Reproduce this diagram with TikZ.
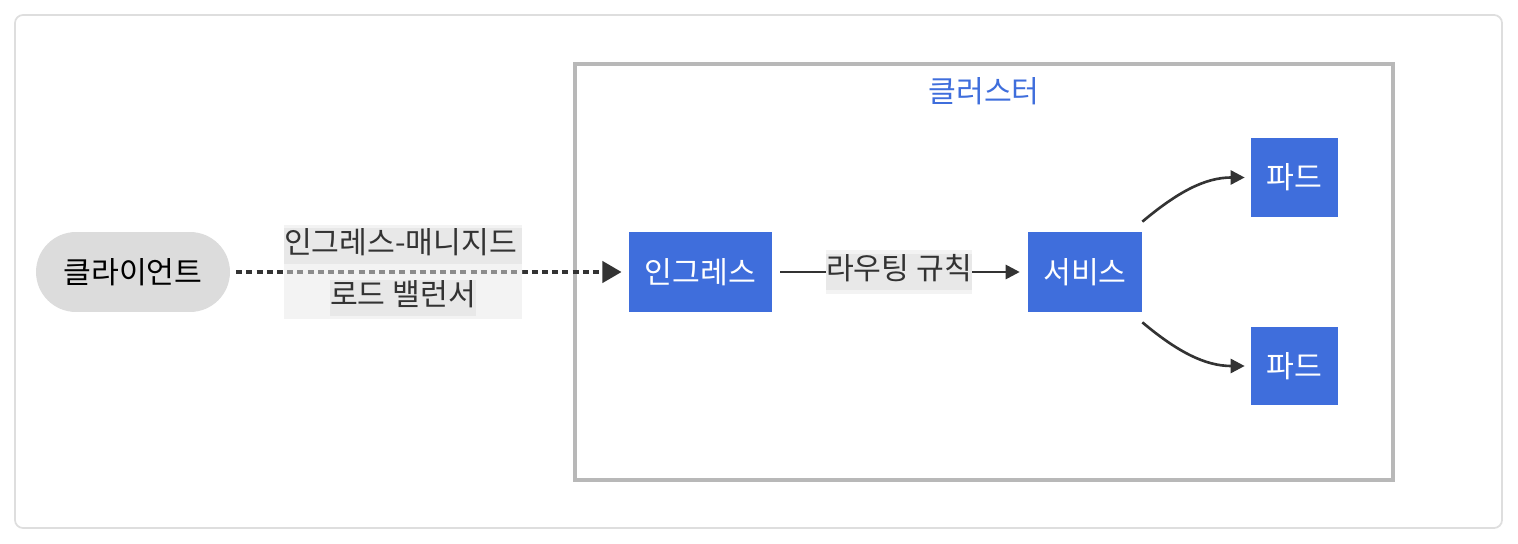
\documentclass[tikz,border=0pt]{standalone}
\usepackage{fontspec}
\setmainfont{Noto Sans CJK KR}
\usetikzlibrary{arrows.meta}

\definecolor{kblue}{HTML}{3F6EDC}
\definecolor{lnk}{HTML}{333333}
\definecolor{lblbg}{HTML}{F3F3F3}
\definecolor{lblhl}{HTML}{E8E8E8}
\definecolor{pill}{HTML}{DCDCDC}

\newcommand{\hlline}[1]{{\setlength{\fboxsep}{0pt}\colorbox{lblhl}{\rule[-6pt]{0pt}{17.5pt}#1}}}

\tikzset{
	blk/.style={fill=kblue, text=white, minimum height=1.6cm, inner sep=0pt},
	link/.style={draw=lnk, line width=1.5pt, -{Triangle[length=8pt,width=8pt]}},
	dotlink/.style={draw=lnk, line width=2.4pt, dash pattern=on 3.4pt off 2.4pt,
		-{Triangle[length=11pt,width=12pt]}},
	edgelbl/.style={fill=lblbg, text=lnk, inner xsep=0pt, align=center,
		font=\fontsize{17.2}{29.5}\selectfont}
}

\begin{document}
\begin{tikzpicture}[x=0.02cm, y=0.02cm, every node/.style={font=\fontsize{17.2}{20}\selectfont}]
	\useasboundingbox (0,0) rectangle (1518,-544);
	\draw[draw=black!13, line width=1pt, rounded corners=0.16cm] (15,-15) rectangle (1502,-528);
	
	% cluster
	\node[draw=black!28, line width=2.4pt, minimum width=16.36cm, minimum height=8.32cm] (cluster) at (984,-272) {};
	\node[text=kblue] (clusterlbl) at (984,-91) {클러스터};
	
	\node[fill=pill, rounded corners=0.8cm, minimum width=3.88cm, minimum height=1.6cm] (client) at (133,-272) {클라이언트};
	
	\node[blk, minimum width=2.86cm] (ingress) at (700.5,-272) {인그레스};
	\node[blk, minimum width=2.28cm] (svc) at (1085,-272) {서비스};
	\node[blk, minimum width=1.74cm, minimum height=1.58cm] (podA) at (1294.5,-177.5) {파드};
	\node[blk, minimum width=1.74cm, minimum height=1.58cm] (podB) at (1294.5,-366) {파드};
	
	% load balancer
	\draw[dotlink, shorten <=3.4pt, shorten >=4pt] (client) -- (ingress);
	\node[edgelbl, inner ysep=2pt] (lblLB) at (403,-272) {\hlline{인그레스-매니지드\,}\\\hlline{로드 밸런서}};
	\begin{scope}
		\clip (lblLB.south west) rectangle (lblLB.north east);
		\draw[dotlink, draw=black!45, shorten <=3.4pt, shorten >=4pt] (client) -- (ingress);
	\end{scope}
	
	% routing
	\draw[link, shorten <=4.5pt, shorten >=4.5pt] (ingress) -- (svc);
	\node[edgelbl, inner ysep=2.5pt] (lblRoute) at (899,-272) {\hlline{라우팅 규칙}};
	
	\draw[link, shorten >=3.4pt] ([yshift=0.2cm]svc.north east) to[out=40, in=180] (podA.west);
	\draw[link, shorten >=3.4pt] ([yshift=-0.2cm]svc.south east) to[out=-40, in=180] (podB.west);
\end{tikzpicture}
\end{document}
